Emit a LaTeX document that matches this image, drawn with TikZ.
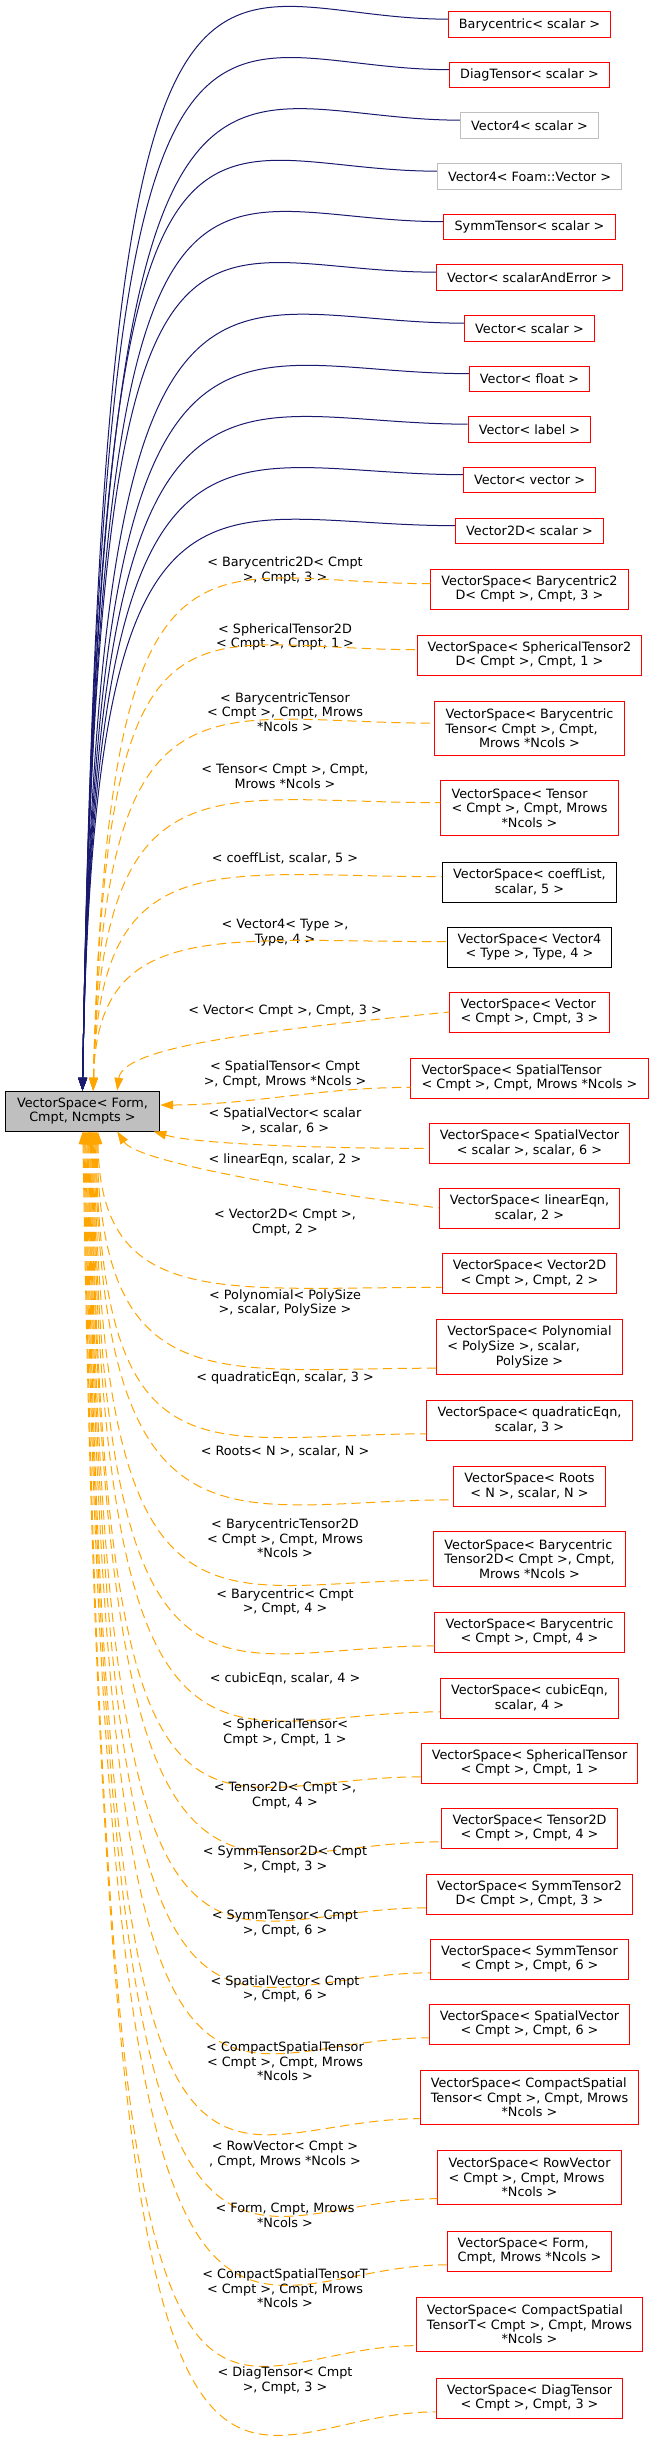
\documentclass[tikz,border=0pt]{standalone}
\usepackage{fontspec}
\setmainfont{DejaVu Sans}
\usetikzlibrary{arrows.meta}
\definecolor{navyedge}{HTML}{191970}
\definecolor{orangeedge}{HTML}{FFA500}
\definecolor{greyborder}{HTML}{BFBFBF}
\newcommand{\lastln}[1]{\hfill#1\hfill\mbox{}}
\tikzset{
  cls/.style={draw, line width=0.75pt, inner xsep=8pt, inner ysep=2pt, align=left, font=\fontsize{9.6}{11}\selectfont},
  clsred/.style={cls, draw=red},
  clsgray/.style={cls, draw=greyborder},
  clsblack/.style={cls, draw=black},
  lbl/.style={align=center, inner sep=0pt, font=\fontsize{9.6}{11}\selectfont},
  pub/.style={navyedge, line width=0.75pt, {Triangle[length=9.5pt,width=6.5pt]}-},
  dep/.style={orangeedge, line width=0.75pt, dash pattern=on 7pt off 4pt, {Triangle[length=9.5pt,width=6.5pt]}-},
}
\begin{document}
\begin{tikzpicture}[x=0.75pt, y=0.75pt]
	\path[use as bounding box, fill=white] (0,0) rectangle (656,-2449);

	% base class
	\node[cls, draw=black, fill=greyborder, align=center, minimum width=116pt, minimum height=30pt] (vs) at (82.5,-1111) {VectorSpace< Form,\\Cmpt, Ncmpts >};

	% public derived classes
	\foreach \nm/\y/\sty/\txt in {barys/24.5/clsred/{Barycentric< scalar >}, diags/75/clsred/{DiagTensor< scalar >},
		vecfs/125.5/clsgray/{Vector4< scalar >}, vecfv/176.5/clsgray/{Vector4< Foam::Vector >},
		symms/227/clsred/{SymmTensor< scalar >}, vecsae/277.5/clsred/{Vector< scalarAndError >},
		vecs/328.5/clsred/{Vector< scalar >}, vecf/379/clsred/{Vector< float >},
		vecl/429.5/clsred/{Vector< label >}, vecv/480/clsred/{Vector< vector >},
		vectds/531/clsred/{Vector2D< scalar >}} {
		\node[\sty, minimum height=19pt] (\nm) at (529.5,-\y) {\txt};
		\draw[pub] (vs.north) .. controls +({0.02*(1091-\y)},{1.2*(1091-\y)}) and +(-250,0) .. ([yshift=4pt]\nm.west);
	}

	% template instances above the base
	\foreach \nm/\y/\sty/\hh/\txt/\ly/\lbl in {
		bary2d/589/clsred/30/{VectorSpace< Barycentric2\\\lastln{D< Cmpt >, Cmpt, 3 >}}/570.5/{< Barycentric2D< Cmpt\\>, Cmpt, 3 >},
		spher2d/655/clsred/30/{VectorSpace< SphericalTensor2\\\lastln{D< Cmpt >, Cmpt, 1 >}}/637/{< SphericalTensor2D\\< Cmpt >, Cmpt, 1 >},
		barytens/728.5/clsred/41/{VectorSpace< Barycentric\\Tensor< Cmpt >, Cmpt,\\\lastln{Mrows *Ncols >}}/712/{< BarycentricTensor\\< Cmpt >, Cmpt, Mrows\\*Ncols >},
		tensor/808/clsred/41/{VectorSpace< Tensor\\< Cmpt >, Cmpt, Mrows\\\lastln{*Ncols >}}/776.5/{< Tensor< Cmpt >, Cmpt,\\Mrows *Ncols >},
		coeff/882/clsblack/30/{VectorSpace< coeffList,\\\lastln{scalar, 5 >}}/858/{< coeffList, scalar, 5 >},
		vecft/947/clsblack/30/{VectorSpace< Vector4\\\lastln{< Type >, Type, 4 >}}/932.5/{< Vector4< Type >,\\Type, 4 >}} {
		\node[\sty, minimum height=\hh pt] (\nm) at (529.5,-\y) {\txt};
		\node[lbl] (l\nm) at (285,-\ly) {\lbl};
		\draw[dep] ([xshift=8pt]vs.north) .. controls +({0.03*(1091-\y)},{1.2*(1091-\y)}) and +(-230,0) .. ([yshift=4pt]\nm.west);
	}

	% instances beside the base
	\node[clsred, minimum height=30pt] (vecc) at (529.5,-1012) {VectorSpace< Vector\\\lastln{< Cmpt >, Cmpt, 3 >}};
	\node[lbl] (lvecc) at (285,-1011) {< Vector< Cmpt >, Cmpt, 3 >};
	\draw[dep] ([xshift=26pt]vs.north) .. controls +(6,45) and +(-180,-18) .. (vecc.west);

	\node[clsred, minimum height=30pt] (spatt) at (529.5,-1078) {VectorSpace< SpatialTensor\\\lastln{< Cmpt >, Cmpt, Mrows *Ncols >}};
	\node[lbl] (lspatt) at (285,-1074.5) {< SpatialTensor< Cmpt\\>, Cmpt, Mrows *Ncols >};
	\draw[dep] ([yshift=4.5pt]vs.east) .. controls +(90,0) and +(-90,0) .. ([yshift=-7pt]spatt.west);

	\node[clsred, minimum height=30pt] (spatvs) at (529.5,-1143) {VectorSpace< SpatialVector\\\lastln{< scalar >, scalar, 6 >}};
	\node[lbl] (lspatvs) at (285,-1121) {< SpatialVector< scalar\\>, scalar, 6 >};
	\draw[dep] ([xshift=-5pt]vs.south east) .. controls +(40,-12) and +(-120,0) .. ([yshift=-4pt]spatvs.west);

	\node[clsred, minimum height=30pt] (lineq) at (529.5,-1208) {VectorSpace< linearEqn,\\\lastln{scalar, 2 >}};
	\node[lbl] (llineq) at (285,-1160) {< linearEqn, scalar, 2 >};
	\draw[dep] ([xshift=26pt]vs.south) .. controls +(20,-30) and +(-150,20) .. (lineq.west);

	% template instances below the base
	\foreach \nm/\y/\sty/\hh/\txt/\ly/\lbl in {
		vectd/1273.5/clsred/30/{VectorSpace< Vector2D\\\lastln{< Cmpt >, Cmpt, 2 >}}/1222.5/{< Vector2D< Cmpt >,\\Cmpt, 2 >},
		poly/1347/clsred/41/{VectorSpace< Polynomial\\< PolySize >, scalar,\\\lastln{PolySize >}}/1303/{< Polynomial< PolySize\\>, scalar, PolySize >},
		quadeqn/1420/clsred/30/{VectorSpace< quadraticEqn,\\\lastln{scalar, 3 >}}/1378/{< quadraticEqn, scalar, 3 >},
		roots/1486/clsred/30/{VectorSpace< Roots\\\lastln{< N >, scalar, N >}}/1451/{< Roots< N >, scalar, N >},
		barytenstd/1559/clsred/41/{VectorSpace< Barycentric\\Tensor2D< Cmpt >, Cmpt,\\\lastln{Mrows *Ncols >}}/1538.5/{< BarycentricTensor2D\\< Cmpt >, Cmpt, Mrows\\*Ncols >},
		baryc/1632/clsred/30/{VectorSpace< Barycentric\\\lastln{< Cmpt >, Cmpt, 4 >}}/1602/{< Barycentric< Cmpt\\>, Cmpt, 4 >},
		cubeqn/1698/clsred/30/{VectorSpace< cubicEqn,\\\lastln{scalar, 4 >}}/1679/{< cubicEqn, scalar, 4 >},
		sphert/1763/clsred/30/{VectorSpace< SphericalTensor\\\lastln{< Cmpt >, Cmpt, 1 >}}/1732.5/{< SphericalTensor<\\Cmpt >, Cmpt, 1 >},
		tenstd/1828/clsred/30/{VectorSpace< Tensor2D\\\lastln{< Cmpt >, Cmpt, 4 >}}/1795.5/{< Tensor2D< Cmpt >,\\Cmpt, 4 >},
		symmtd/1894/clsred/30/{VectorSpace< SymmTensor2\\\lastln{D< Cmpt >, Cmpt, 3 >}}/1859.5/{< SymmTensor2D< Cmpt\\>, Cmpt, 3 >},
		symmt/1959/clsred/30/{VectorSpace< SymmTensor\\\lastln{< Cmpt >, Cmpt, 6 >}}/1923.5/{< SymmTensor< Cmpt\\>, Cmpt, 6 >},
		spatvc/2024/clsred/30/{VectorSpace< SpatialVector\\\lastln{< Cmpt >, Cmpt, 6 >}}/1989/{< SpatialVector< Cmpt\\>, Cmpt, 6 >},
		cspt/2097.5/clsred/41/{VectorSpace< CompactSpatial\\Tensor< Cmpt >, Cmpt, Mrows\\\lastln{*Ncols >}}/2061.5/{< CompactSpatialTensor\\< Cmpt >, Cmpt, Mrows\\*Ncols >},
		rowvec/2177.5/clsred/41/{VectorSpace< RowVector\\< Cmpt >, Cmpt, Mrows\\\lastln{*Ncols >}}/2154.5/{< RowVector< Cmpt >\\, Cmpt, Mrows *Ncols >},
		formv/2251/clsred/30/{VectorSpace< Form,\\\lastln{Cmpt, Mrows *Ncols >}}/2215/{< Form, Cmpt, Mrows\\*Ncols >},
		csptt/2324.5/clsred/41/{VectorSpace< CompactSpatial\\TensorT< Cmpt >, Cmpt, Mrows\\\lastln{*Ncols >}}/2288.5/{< CompactSpatialTensorT\\< Cmpt >, Cmpt, Mrows\\*Ncols >},
		diagt/2398/clsred/30/{VectorSpace< DiagTensor\\\lastln{< Cmpt >, Cmpt, 3 >}}/2380.5/{< DiagTensor< Cmpt\\>, Cmpt, 3 >}} {
		\node[\sty, minimum height=\hh pt] (\nm) at (529.5,-\y) {\txt};
		\node[lbl] (l\nm) at (285,-\ly) {\lbl};
		\draw[dep] ([xshift={(2420-\y)*0.01pt}]vs.south) .. controls +({0.02*(\y-1131)},{-1.25*(\y-1131)}) and +(-220,0) .. ([yshift=5pt]\nm.south west);
	}
\end{tikzpicture}
\end{document}
